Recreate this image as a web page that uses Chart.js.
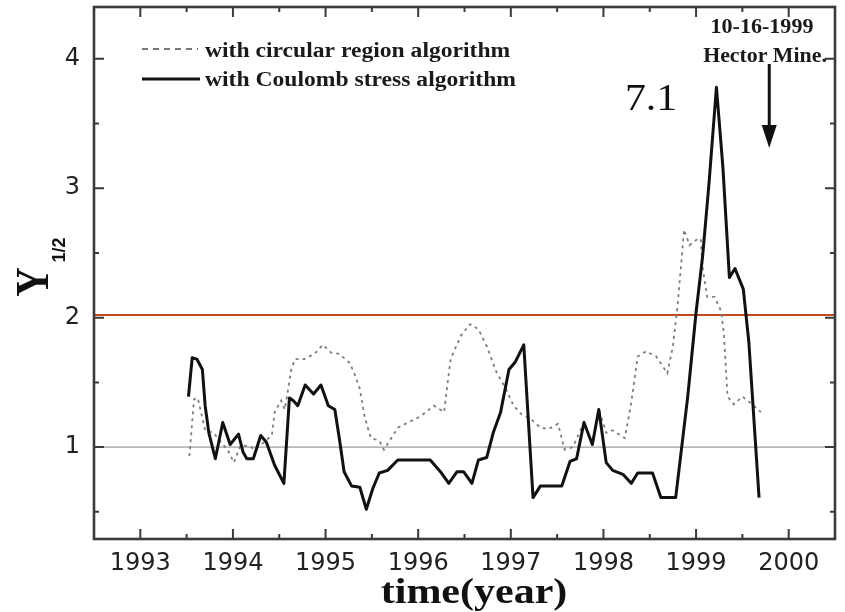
<!DOCTYPE html>
<html><head><meta charset="utf-8">
<script src="https://cdn.jsdelivr.net/npm/chart.js@4"></script>
<style>html,body{margin:0;padding:0;background:#fff}#wrap{width:845px;height:612px}</style>
</head><body><div id="wrap"><canvas id="c" width="845" height="612"></canvas></div>
<script>
// ---- data ----
const coulombYears = [1993.52,1993.56,1993.61,1993.67,1993.70,1993.74,1993.81,1993.89,1993.97,1994.06,1994.11,1994.15,1994.22,1994.30,1994.36,1994.45,1994.55,1994.61,1994.65,1994.70,1994.78,1994.87,1994.95,1995.03,1995.10,1995.15,1995.20,1995.28,1995.37,1995.44,1995.51,1995.58,1995.67,1995.78,1996.13,1996.24,1996.33,1996.42,1996.49,1996.58,1996.65,1996.74,1996.81,1996.89,1996.98,1997.05,1997.14,1997.24,1997.32,1997.55,1997.64,1997.71,1997.79,1997.88,1997.95,1998.03,1998.10,1998.21,1998.30,1998.37,1998.53,1998.62,1998.78,1998.91,1999.00,1999.07,1999.14,1999.22,1999.29,1999.36,1999.42,1999.51,1999.57,1999.68];
const coulombValues = [1.39,1.69,1.68,1.60,1.32,1.11,0.91,1.19,1.02,1.10,0.96,0.91,0.91,1.09,1.04,0.86,0.72,1.38,1.36,1.32,1.48,1.41,1.48,1.32,1.29,1.06,0.81,0.70,0.69,0.52,0.68,0.80,0.82,0.90,0.90,0.81,0.72,0.81,0.81,0.72,0.90,0.92,1.11,1.27,1.60,1.66,1.79,0.61,0.70,0.70,0.89,0.91,1.19,1.02,1.29,0.88,0.82,0.79,0.72,0.80,0.80,0.61,0.61,1.39,2.04,2.47,3.04,3.78,3.16,2.31,2.38,2.22,1.81,0.61];
const circularYears = [1993.53,1993.58,1993.62,1993.70,1993.79,1993.95,1994.01,1994.08,1994.17,1994.24,1994.34,1994.42,1994.45,1994.52,1994.56,1994.63,1994.67,1994.77,1994.88,1994.97,1995.06,1995.15,1995.26,1995.31,1995.37,1995.42,1995.46,1995.49,1995.58,1995.63,1995.71,1995.78,1995.92,1996.03,1996.17,1996.28,1996.31,1996.35,1996.46,1996.56,1996.65,1996.74,1996.85,1996.94,1997.03,1997.12,1997.21,1997.32,1997.41,1997.51,1997.58,1997.67,1997.79,1997.88,1997.95,1998.03,1998.10,1998.23,1998.30,1998.37,1998.46,1998.57,1998.69,1998.75,1998.80,1998.84,1998.87,1998.93,1999.00,1999.05,1999.07,1999.12,1999.20,1999.27,1999.30,1999.34,1999.41,1999.50,1999.59,1999.70];
const circularValues = [0.93,1.37,1.38,1.13,1.11,0.97,0.88,1.01,1.01,0.98,1.04,1.09,1.27,1.36,1.29,1.60,1.68,1.68,1.72,1.79,1.73,1.72,1.65,1.57,1.45,1.24,1.14,1.07,1.05,0.98,1.07,1.15,1.20,1.24,1.32,1.27,1.45,1.68,1.86,1.95,1.91,1.78,1.57,1.46,1.32,1.25,1.22,1.15,1.14,1.18,0.98,1.00,1.19,1.02,1.29,1.11,1.13,1.07,1.34,1.70,1.74,1.70,1.57,1.78,2.09,2.42,2.68,2.56,2.60,2.61,2.39,2.16,2.16,2.05,1.88,1.39,1.33,1.39,1.34,1.27];
const thresholdHigh = 2.02;
const thresholdLow = 1.0;
const xRange = [1992.5, 2000.5];
const yRange = [0.29, 4.4];
const xTickLabels = ['1993','1994','1995','1996','1997','1998','1999','2000'];
const yTickLabels = ['1','2','3','4'];
const seriesLabels = ['with circular region algorithm', 'with Coulomb stress algorithm'];
const eventYear = 1999.79;          // 10-16-1999
const eventDate = '10-16-1999';
const eventName = 'Hector Mine.';
const magnitudeLabel = '7.1';
const xTitle = 'time(year)';
const yTitleMain = 'Y';
const yTitleSub = '1/2';

const toPts = (xs, ys) => xs.map((x, i) => ({x, y: ys[i]}));
const isInt = v => Math.abs(v - Math.round(v)) < 1e-6;

const decorPlugin = {
  id: 'decor',
  afterDatasetsDraw(chart) {
    const ctx = chart.ctx, a = chart.chartArea;
    const xs = chart.scales.x, ys = chart.scales.y;
    ctx.save();
    // ticks pointing inward
    ctx.strokeStyle = '#3a3a3a'; ctx.lineWidth = 2;
    ctx.beginPath();
    xs.ticks.forEach(t => {
      const p = xs.getPixelForValue(t.value);
      if (p <= a.left + 2 || p >= a.right - 2) return;
      const L = isInt(t.value) ? 10 : 5;
      ctx.moveTo(p, a.bottom); ctx.lineTo(p, a.bottom - L);
      ctx.moveTo(p, a.top); ctx.lineTo(p, a.top + L);
    });
    ys.ticks.forEach(t => {
      const p = ys.getPixelForValue(t.value);
      if (p <= a.top + 2 || p >= a.bottom - 2) return;
      const L = isInt(t.value) ? 10 : 5;
      ctx.moveTo(a.left, p); ctx.lineTo(a.left + L, p);
      ctx.moveTo(a.right, p); ctx.lineTo(a.right - L, p);
    });
    ctx.stroke();
    // frame
    ctx.lineWidth = 2.6; ctx.strokeStyle = '#3a3a3a';
    ctx.strokeRect(a.left, a.top, a.right - a.left, a.bottom - a.top);

    // legend (inside plot)
    const ds = chart.data.datasets;
    ctx.lineCap = 'butt';
    ctx.strokeStyle = '#777'; ctx.lineWidth = 1.8; ctx.setLineDash([6, 5]);
    ctx.beginPath(); ctx.moveTo(142, 49); ctx.lineTo(198, 49); ctx.stroke();
    ctx.setLineDash([]);
    ctx.strokeStyle = '#111'; ctx.lineWidth = 3;
    ctx.beginPath(); ctx.moveTo(142, 79); ctx.lineTo(200, 79); ctx.stroke();
    ctx.fillStyle = '#1a1a1a';
    ctx.font = 'bold 20px "Liberation Serif"';
    ctx.textAlign = 'left'; ctx.textBaseline = 'alphabetic';
    [[ds[0].label, 57], [ds[1].label, 86]].forEach(([txt, yb]) => {
      ctx.save(); ctx.translate(205, yb); ctx.scale(1.18, 1); ctx.fillText(txt, 0, 0); ctx.restore();
    });

    // annotations
    ctx.font = 'bold 21px "Liberation Serif"'; ctx.textAlign = 'center';
    ctx.save(); ctx.translate(762, 33); ctx.scale(1.05, 1); ctx.fillText(eventDate, 0, 0); ctx.restore();
    ctx.save(); ctx.translate(765, 62); ctx.scale(1.04, 1); ctx.fillText(eventName, 0, 0); ctx.restore();
    ctx.fillStyle = '#111';
    ctx.font = '38px "Liberation Serif"';
    ctx.save(); ctx.translate(651, 110); ctx.scale(1.1, 1); ctx.fillText(magnitudeLabel, 0, 0); ctx.restore();
    // arrow at event date
    const ax = xs.getPixelForValue(eventYear);
    ctx.strokeStyle = '#111'; ctx.lineWidth = 3;
    ctx.beginPath(); ctx.moveTo(ax, 64); ctx.lineTo(ax, 128); ctx.stroke();
    ctx.beginPath(); ctx.moveTo(ax - 7.5, 125); ctx.lineTo(ax + 7.5, 125); ctx.lineTo(ax, 148); ctx.closePath(); ctx.fill();

    // axis titles
    ctx.fillStyle = '#111';
    ctx.font = 'bold 35px "Liberation Serif"'; ctx.textAlign = 'center';
    ctx.save(); ctx.translate(474, 603); ctx.scale(1.2, 1); ctx.fillText(xTitle, 0, 0); ctx.restore();
    ctx.save(); ctx.translate(48, 282); ctx.rotate(-Math.PI / 2); ctx.scale(1, 1.12);
    ctx.font = 'bold 41px "Liberation Serif"'; ctx.fillText(yTitleMain, 0, 0); ctx.restore();
    ctx.save(); ctx.translate(65, 250); ctx.rotate(-Math.PI / 2);
    ctx.font = 'bold 18px "Liberation Sans"'; ctx.fillText(yTitleSub, 0, 0); ctx.restore();
    ctx.restore();
  }
};

new Chart(document.getElementById('c'), {
  type: 'line',
  data: {
    datasets: [
      { label: seriesLabels[0], data: toPts(circularYears, circularValues), borderColor: '#7d7d7d', borderWidth: 1.8, borderDash: [3, 4], pointRadius: 0, tension: 0, order: 2 },
      { label: seriesLabels[1], data: toPts(coulombYears, coulombValues), borderColor: '#111', borderWidth: 3, pointRadius: 0, tension: 0, order: 1, borderJoinStyle: 'round' },
      { label: 'threshold', data: [{x: xRange[0], y: thresholdHigh}, {x: xRange[1], y: thresholdHigh}], borderColor: '#bf4a20', borderWidth: 2, pointRadius: 0, order: 3 },
      { label: 'reference', data: [{x: xRange[0], y: thresholdLow}, {x: xRange[1], y: thresholdLow}], borderColor: '#b8b8b8', borderWidth: 1.6, pointRadius: 0, order: 4 }
    ]
  },
  options: {
    responsive: false, animation: false, devicePixelRatio: 1,
    layout: { padding: { top: 7, right: 10, left: 0, bottom: 0 } },
    plugins: { legend: { display: false }, tooltip: { enabled: false } },
    scales: {
      x: {
        type: 'linear', min: xRange[0], max: xRange[1],
        grid: { display: false, drawTicks: false }, border: { display: false },
        afterFit: s => { s.height = 73; s.paddingLeft = 0; s.paddingRight = 0; },
        ticks: {
          stepSize: 0.5, autoSkip: false, maxRotation: 0, padding: 10,
          font: { family: '"DejaVu Sans"', size: 24 }, color: '#222',
          callback: v => { const s = String(Math.round(v)); return isInt(v) && xTickLabels.includes(s) ? s : ''; }
        }
      },
      y: {
        min: yRange[0], max: yRange[1],
        grid: { display: false, drawTicks: false }, border: { display: false },
        afterFit: s => { s.width = 94; s.paddingTop = 0; s.paddingBottom = 0; },
        ticks: {
          stepSize: 0.5, includeBounds: false, padding: 14,
          font: { family: '"DejaVu Sans"', size: 24 }, color: '#222',
          callback: v => { const s = String(Math.round(v)); return isInt(v) && yTickLabels.includes(s) ? s : ''; }
        }
      }
    }
  },
  plugins: [decorPlugin]
});
</script></body></html>
